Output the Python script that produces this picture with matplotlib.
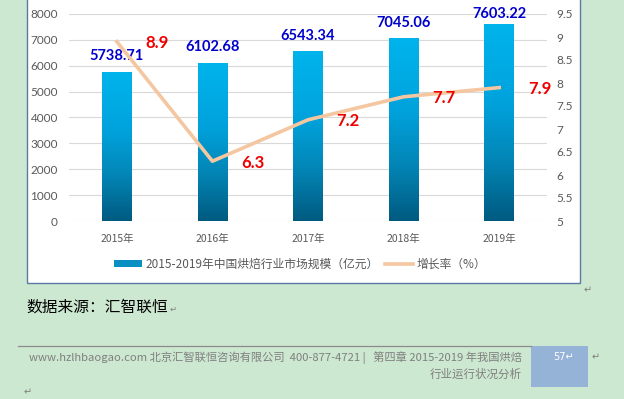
import numpy as np
import matplotlib.pyplot as plt
from matplotlib.patches import Rectangle
from matplotlib.lines import Line2D
from matplotlib.colors import LinearSegmentedColormap

# dados do grafico
years = ["2015年", "2016年", "2017年", "2018年", "2019年"]
market_size = [5738.71, 6102.68, 6543.34, 7045.06, 7603.22]
growth_rate = [8.9, 6.3, 7.2, 7.7, 7.9]
left_ticks = [0, 1000, 2000, 3000, 4000, 5000, 6000, 7000, 8000]
right_ticks = [5, 5.5, 6, 6.5, 7, 7.5, 8, 8.5, 9, 9.5]

bar_label = "2015-2019年中国烘焙行业市场规模（亿元）"
line_label = "增长率（%）"
source_text = "数据来源：汇智联恒"
footer_line1 = "www.hzlhbaogao.com 北京汇智联恒咨询有限公司  400-877-4721 |   第四章 2015-2019 年我国烘焙"
footer_line2 = "行业运行状况分析"
page_no = "57"

CJK = ["Noto Sans CJK SC", "DejaVu Sans"]
NUM = ["Lato", "DejaVu Sans"]
plt.rcParams["font.family"] = CJK

W, H = 624, 399
fig = plt.figure(figsize=(W / 100, H / 100), dpi=100)
fig.patch.set_facecolor("#cde8d0")


def fx(px):
    return px / W


def fy(py):
    return 1 - py / H


# caixa branca do grafico
fig.add_artist(Rectangle((fx(27), fy(283)), fx(580) - fx(27), fy(-5) - fy(283),
                         transform=fig.transFigure, facecolor="white",
                         edgecolor="#5a7aa6", linewidth=1.0, zorder=0))

ax = fig.add_axes([fx(69), fy(221), fx(547) - fx(69), fy(14) - fy(221)])
ax.set_facecolor("none")
ax2 = ax.twinx()

x = np.arange(len(years))
bw = 0.31
grad = LinearSegmentedColormap.from_list(
    "g", [(0, "#005a80"), (0.3, "#0385b5"), (0.6, "#00a2dc"), (1, "#00b4ec")])
gimg = np.linspace(0, 1, 256).reshape(-1, 1)

for xi, v in zip(x, market_size):
    ax.imshow(gimg, cmap=grad, origin="lower", aspect="auto",
              extent=[xi - bw / 2, xi + bw / 2, 0, v], zorder=2)
    ax.annotate(f"{v:.2f}", (xi, min(v + 620, 8000)), ha="center", va="center",
                fontsize=10.5, fontweight="bold", color="#0000cc", family=NUM, zorder=5)
ax.set_xlim(-0.5, len(years) - 0.5)
ax.set_ylim(0, 8000)

ax.set_yticks(left_ticks)
ax.yaxis.grid(True, color="#d9d9d9", linewidth=0.8)
ax.set_axisbelow(True)
ax.set_xticks(x)
ax.set_xticklabels(years, fontsize=7.5, color="#595959")
ax.tick_params(axis="x", length=0, pad=9)
ax.tick_params(axis="y", length=0, pad=8, labelsize=8.5, labelcolor="#595959")
for s in ax.spines.values():
    s.set_visible(False)

ax2.plot(x, growth_rate, color="#f5c7a0", linewidth=2.6, zorder=4)
for xi, r in zip(x, growth_rate):
    ax2.annotate(f"{r}", (xi, r), xytext=(29, -1), textcoords="offset points",
                 ha="center", va="center", fontsize=12, fontweight="bold",
                 color="#ee0000", family=NUM, zorder=6)
ax2.set_ylim(5, 9.5)
ax2.set_yticks(right_ticks)
ax2.set_yticklabels([f"{t:g}" for t in right_ticks])
ax2.tick_params(axis="y", length=0, pad=7, labelsize=8.5, labelcolor="#595959")
for s in ax2.spines.values():
    s.set_visible(False)
ax.set_zorder(1)
ax2.set_zorder(2)

for lab in ax.get_yticklabels() + ax2.get_yticklabels():
    lab.set_family(NUM)

# legenda
handles = [Rectangle((0, 0), 1, 1, facecolor="#0a8fc2"),
           Line2D([0], [0], color="#f5c7a0", linewidth=2.6)]
fig.legend(handles, [bar_label, line_label], loc="center",
           bbox_to_anchor=(fx(300), fy(264)), ncol=2, frameon=False,
           fontsize=8.5, labelcolor="#595959", handlelength=2.4, handleheight=0.5,
           handletextpad=0.3, columnspacing=0.5)

# texto abaixo do grafico
fig.text(fx(26), fy(307), source_text, fontsize=11.3, color="black", va="center")
fig.text(fx(584), fy(290), "↵", fontsize=7, color="#808080", va="center", family="DejaVu Sans")
fig.text(fx(170), fy(309), "↵", fontsize=6, color="#808080", va="center", family="DejaVu Sans")

# rodape
fig.add_artist(Line2D([fx(18), fx(531)], [fy(346), fy(346)], color="#8c8c8c",
                      linewidth=0.9, transform=fig.transFigure))
fig.add_artist(Rectangle((fx(531), fy(387)), fx(588) - fx(531), fy(346) - fy(387),
                         transform=fig.transFigure, facecolor="#95b3d7", edgecolor="none"))
fig.text(fx(522), fy(358), footer_line1, fontsize=8.1, color="#7f7f7f", ha="right", va="center")
fig.text(fx(522), fy(374), footer_line2, fontsize=8.3, color="#7f7f7f", ha="right", va="center")
fig.text(fx(563), fy(357), page_no + "↵", fontsize=7, color="white", ha="center", va="center",
         family="DejaVu Sans")
fig.text(fx(592), fy(357), "↵", fontsize=7, color="#808080", va="center", family="DejaVu Sans")
fig.text(fx(24), fy(392), "↵", fontsize=7, color="#808080", va="center", family="DejaVu Sans")

fig.savefig("out.png", dpi=100, facecolor=fig.get_facecolor())
